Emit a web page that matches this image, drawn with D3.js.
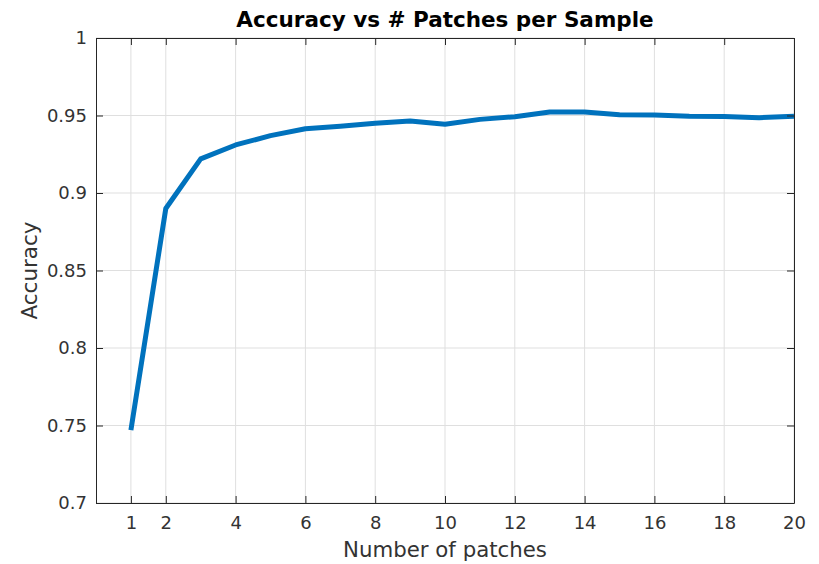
<!DOCTYPE html>
<html><head><meta charset="utf-8">
<script src="https://cdn.jsdelivr.net/npm/d3@7"></script>
<style>body{margin:0;background:#fff}svg{display:block}text{font-family:"DejaVu Sans",sans-serif}</style>
</head><body><svg id="c" width="819" height="564"></svg>
<script>
const patches = [1,2,3,4,5,6,7,8,9,10,11,12,13,14,15,16,17,18,19,20];
const accuracy = [0.747,0.890,0.922,0.931,0.937,0.9415,0.943,0.945,0.9465,0.9443,0.9475,0.9492,0.9522,0.9522,0.9505,0.9503,0.9495,0.9494,0.9486,0.9495];
const xTicks = [1,2,4,6,8,10,12,14,16,18,20];
const yTicks = [0.7,0.75,0.8,0.85,0.9,0.95,1];
const yTickLabels = ["0.7","0.75","0.8","0.85","0.9","0.95","1"];
const title = "Accuracy vs # Patches per Sample";
const xLabel = "Number of patches";
const yLabel = "Accuracy";

const L=96, R=794, T=38, B=503;
const svg = d3.select("#c");
const x = d3.scaleLinear().domain([0,20]).range([L,R]);
const y = d3.scaleLinear().domain([0.7,1]).range([B,T]);
const axisCol="#262626", textCol="#333333", gridCol="#dfdfdf";

const g = svg.append("g");
g.selectAll(".gx").data(xTicks).join("line").attr("x1",d=>x(d)).attr("x2",d=>x(d)).attr("y1",T).attr("y2",B).attr("stroke",gridCol).attr("stroke-width",1);
g.selectAll(".gy").data(yTicks).join("line").attr("y1",d=>y(d)).attr("y2",d=>y(d)).attr("x1",L).attr("x2",R).attr("stroke",gridCol).attr("stroke-width",1);

const line = d3.line().x((d,i)=>x(patches[i])).y(d=>y(d));
svg.append("path").datum(accuracy).attr("d",line).attr("fill","none").attr("stroke","#0072BD").attr("stroke-width",5).attr("stroke-linejoin","round");

const tl=7;
const xb = d3.axisBottom(x).tickValues(xTicks).tickSizeInner(-tl).tickSizeOuter(0).tickPadding(13);
const xt = d3.axisTop(x).tickValues(xTicks).tickSizeInner(-tl).tickSizeOuter(0).tickFormat("");
const yl = d3.axisLeft(y).tickValues(yTicks).tickSizeInner(-tl).tickSizeOuter(0).tickPadding(9).tickFormat((d,i)=>yTickLabels[i]);
const yr = d3.axisRight(y).tickValues(yTicks).tickSizeInner(-tl).tickSizeOuter(0).tickFormat("");
function style(sel){sel.attr("font-family",null).attr("font-size",null);sel.selectAll("path,line").attr("stroke",axisCol);sel.selectAll("text").attr("fill",textCol).style("font-size","18px").style("font-family","DejaVu Sans");}
svg.append("g").attr("transform",`translate(0,${B})`).call(xb).call(style);
svg.append("g").attr("transform",`translate(0,${T})`).call(xt).call(style);
svg.append("g").attr("transform",`translate(${L},0)`).call(yl).call(style);
svg.append("g").attr("transform",`translate(${R},0)`).call(yr).call(style);

svg.append("text").attr("x",(L+R)/2).attr("y",27).attr("text-anchor","middle").attr("font-weight","bold").attr("font-size","21.5px").attr("fill","#000").text(title);
svg.append("text").attr("x",(L+R)/2).attr("y",557).attr("text-anchor","middle").attr("font-size","21.3px").attr("fill",textCol).text(xLabel);
svg.append("text").attr("transform",`translate(37,${(T+B)/2}) rotate(-90)`).attr("text-anchor","middle").attr("font-size","21.5px").attr("fill",textCol).text(yLabel);
</script></body></html>
